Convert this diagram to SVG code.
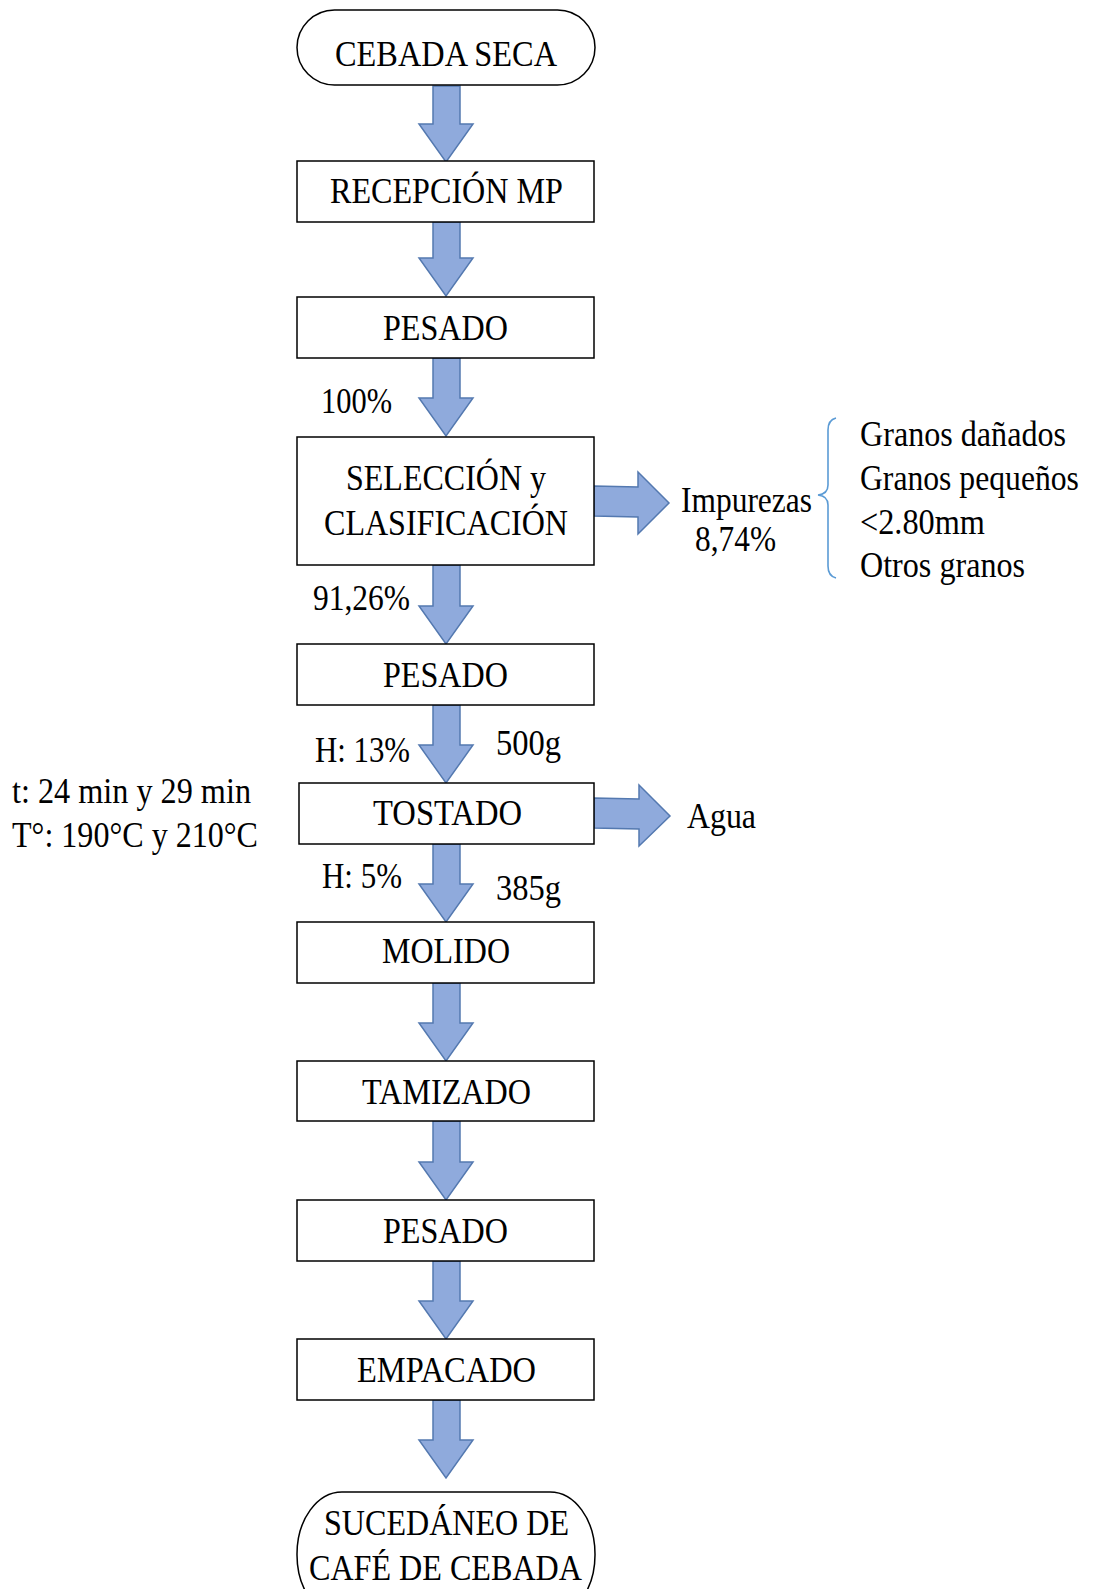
<svg xmlns="http://www.w3.org/2000/svg" width="1093" height="1589" viewBox="0 0 1093 1589">
<style>
.box{fill:#fff;stroke:#000;stroke-width:1.5}
.arr{fill:#8FAADC;stroke:#5479B0;stroke-width:1.5;stroke-linejoin:miter}
.t{font-family:"Liberation Serif","Times New Roman",serif;font-size:35px;fill:#000}
.l{font-family:"Liberation Serif","Times New Roman",serif;font-size:35px;fill:#000}
.brace{fill:none;stroke:#5B9BD5;stroke-width:1.6}
</style>
<rect width="1093" height="1589" fill="#fff"/>
<g id="connectors">
<polygon class="arr" points="433,86 460,86 460,124 473,124 446,162 419,124 433,124"/>
<polygon class="arr" points="433,222 460,222 460,258 473,258 446,296 419,258 433,258"/>
<polygon class="arr" points="433,358 460,358 460,398 473,398 446,436 419,398 433,398"/>
<polygon class="arr" points="433,565 460,565 460,606 473,606 446,644 419,606 433,606"/>
<polygon class="arr" points="433,705 460,705 460,745 473,745 446,783 419,745 433,745"/>
<polygon class="arr" points="433,844 460,844 460,884 473,884 446,922 419,884 433,884"/>
<polygon class="arr" points="433,983 460,983 460,1023 473,1023 446,1061 419,1023 433,1023"/>
<polygon class="arr" points="433,1121 460,1121 460,1162 473,1162 446,1200 419,1162 433,1162"/>
<polygon class="arr" points="433,1261 460,1261 460,1301 473,1301 446,1339 419,1301 433,1301"/>
<polygon class="arr" points="433,1400 460,1400 460,1440 473,1440 446,1478 419,1440 433,1440"/>
<polygon class="arr" points="594,486 638,487 638,472 669,503 638,534 638,517 594,516"/>
<polygon class="arr" points="594,798 639,799 639,785 670,816 639,846 639,829 594,828"/>
<path class="brace" d="M836,418 Q828,420 828,430 L828,485 Q828,494 818,495 Q828,496 828,505 L828,566 Q828,576 836,578"/>
</g>
<g id="n1"><rect class="box" x="297" y="10" width="298" height="75" rx="37.5" ry="37.5"/><text class="t" x="335" y="66" textLength="222" lengthAdjust="spacingAndGlyphs">CEBADA SECA</text></g>
<g id="n2"><rect class="box" x="297" y="161" width="297" height="61"/><text class="t" x="330" y="203" textLength="233" lengthAdjust="spacingAndGlyphs">RECEPCIÓN MP</text></g>
<g id="n3"><rect class="box" x="297" y="297" width="297" height="61"/><text class="t" x="383" y="340" textLength="125" lengthAdjust="spacingAndGlyphs">PESADO</text></g>
<g id="n4"><rect class="box" x="297" y="437" width="297" height="128"/><text class="t" x="346" y="490" textLength="200" lengthAdjust="spacingAndGlyphs">SELECCIÓN y</text><text class="t" x="324" y="535" textLength="244" lengthAdjust="spacingAndGlyphs">CLASIFICACIÓN</text></g>
<g id="n5"><rect class="box" x="297" y="644" width="297" height="61"/><text class="t" x="383" y="687" textLength="125" lengthAdjust="spacingAndGlyphs">PESADO</text></g>
<g id="n6"><rect class="box" x="299" y="783" width="295" height="61"/><text class="t" x="373" y="825" textLength="149" lengthAdjust="spacingAndGlyphs">TOSTADO</text></g>
<g id="n7"><rect class="box" x="297" y="922" width="297" height="61"/><text class="t" x="382" y="963" textLength="128" lengthAdjust="spacingAndGlyphs">MOLIDO</text></g>
<g id="n8"><rect class="box" x="297" y="1061" width="297" height="60"/><text class="t" x="362" y="1104" textLength="169" lengthAdjust="spacingAndGlyphs">TAMIZADO</text></g>
<g id="n9"><rect class="box" x="297" y="1200" width="297" height="61"/><text class="t" x="383" y="1243" textLength="125" lengthAdjust="spacingAndGlyphs">PESADO</text></g>
<g id="n10"><rect class="box" x="297" y="1339" width="297" height="61"/><text class="t" x="357" y="1382" textLength="179" lengthAdjust="spacingAndGlyphs">EMPACADO</text></g>
<g id="n11"><rect class="box" x="297" y="1492" width="298" height="125" rx="45" ry="62"/><text class="t" x="324" y="1535" textLength="245" lengthAdjust="spacingAndGlyphs">SUCEDÁNEO DE</text><text class="t" x="309" y="1580" textLength="273" lengthAdjust="spacingAndGlyphs">CAFÉ DE CEBADA</text></g>
<g id="labels">
<text class="l" x="321" y="413" textLength="71" lengthAdjust="spacingAndGlyphs">100%</text>
<text class="l" x="313" y="610" textLength="97" lengthAdjust="spacingAndGlyphs">91,26%</text>
<text class="l" x="681" y="512" textLength="131" lengthAdjust="spacingAndGlyphs">Impurezas</text>
<text class="l" x="695" y="551" textLength="81" lengthAdjust="spacingAndGlyphs">8,74%</text>
<text class="l" x="860" y="446" textLength="206" lengthAdjust="spacingAndGlyphs">Granos dañados</text>
<text class="l" transform="translate(860,490) scale(0.905,1)">Granos pequeños</text>
<text class="l" x="860" y="534" textLength="125" lengthAdjust="spacingAndGlyphs">&lt;2.80mm</text>
<text class="l" x="860" y="577" textLength="165" lengthAdjust="spacingAndGlyphs">Otros granos</text>
<text class="l" x="315" y="762" textLength="95" lengthAdjust="spacingAndGlyphs">H: 13%</text>
<text class="l" x="496" y="755" textLength="65" lengthAdjust="spacingAndGlyphs">500g</text>
<text class="l" x="12" y="803" textLength="239" lengthAdjust="spacingAndGlyphs">t: 24 min y 29 min</text>
<text class="l" x="12" y="847" textLength="246" lengthAdjust="spacingAndGlyphs">T°: 190°C y 210°C</text>
<text class="l" x="687" y="828" textLength="69" lengthAdjust="spacingAndGlyphs">Agua</text>
<text class="l" x="322" y="888" textLength="80" lengthAdjust="spacingAndGlyphs">H: 5%</text>
<text class="l" x="496" y="900" textLength="65" lengthAdjust="spacingAndGlyphs">385g</text>
</g>
</svg>
